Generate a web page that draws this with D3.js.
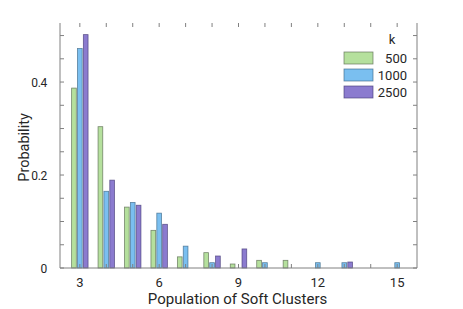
<!DOCTYPE html>
<html><head><meta charset="utf-8">
<script src="https://cdn.jsdelivr.net/npm/d3@7"></script>
<style>body{margin:0;background:#fff}svg{display:block}text{font-family:Roboto,"Liberation Sans",sans-serif;fill:#262626}</style>
</head><body><svg id="c" width="463" height="309"></svg>
<script>
const categories = [3,4,5,6,7,8,9,10,11,12,13,14,15];
const seriesNames = ["500","1000","2500"];
const k500  = [0.387,0.304,0.131,0.081,0.024,0.033,0.0086,0.0165,0.0165,0,0,0,0];
const k1000 = [0.472,0.165,0.141,0.118,0.047,0.0114,0,0.0114,0,0.0114,0.0114,0,0.0114];
const k2500 = [0.502,0.189,0.135,0.094,0,0.0258,0.041,0,0,0,0.0129,0,0];
const xTickLabels = [3,6,9,12,15];
const yTickLabels = [0,0.2,0.4];
const colors = ["#b5e09d","#7abff0","#8b7bcf"];
const strokes = ["#5e6e55","#3f6a8a","#4a3f7a"];

const svg = d3.select("#c");
const L=60,R=417,T=23,B=268;
const x = d3.scaleLinear().domain([2.25,15.75]).range([L,R]);
const y = d3.scaleLinear().domain([0,0.527]).range([B,T]);
const series=[k500,k1000,k2500];
const off=0.222, bw=0.178;
series.forEach((s,i)=>{
  svg.append("g").selectAll("rect").data(categories.map((c,j)=>({c,v:s[j]})).filter(d=>d.v>0))
   .enter().append("rect")
   .attr("x",d=>x(d.c+(i-1)*off-bw/2)).attr("width",x(bw)-x(0))
   .attr("y",d=>y(d.v)).attr("height",d=>B-y(d.v))
   .attr("fill",colors[i]).attr("stroke",strokes[i]).attr("stroke-width",0.8).attr("stroke-opacity",0.8);
});
const ax="#808080";
svg.append("line").attr("x1",L).attr("x2",L).attr("y1",T).attr("y2",B).attr("stroke",ax);
svg.append("line").attr("x1",R).attr("x2",R).attr("y1",T).attr("y2",B).attr("stroke",ax);
svg.append("line").attr("x1",L).attr("x2",R).attr("y1",B).attr("y2",B).attr("stroke",ax);
const xt=d3.range(3,16);
svg.append("g").selectAll("line").data(xt).enter().append("line")
 .attr("x1",d=>x(d)).attr("x2",d=>x(d)).attr("y1",B).attr("y2",B-4).attr("stroke",ax);
svg.append("g").selectAll("line").data(xt).enter().append("line")
 .attr("x1",d=>x(d)).attr("x2",d=>x(d)).attr("y1",T).attr("y2",T+4).attr("stroke",ax);
const yt=d3.range(0,11).map(d=>d*0.05);
svg.append("g").selectAll("line").data(yt).enter().append("line")
 .attr("x1",L).attr("x2",L+4).attr("y1",d=>y(d)).attr("y2",d=>y(d)).attr("stroke",ax);
svg.append("g").selectAll("line").data(yt).enter().append("line")
 .attr("x1",R).attr("x2",R-4).attr("y1",d=>y(d)).attr("y2",d=>y(d)).attr("stroke",ax);
svg.append("g").selectAll("text").data(xTickLabels).enter().append("text")
 .attr("x",d=>x(d)).attr("y",287).attr("text-anchor","middle").attr("font-size",13).text(d=>d);
svg.append("g").selectAll("text").data(yTickLabels).enter().append("text")
 .attr("x",47).attr("y",d=>y(d)+4.5).attr("text-anchor","end").attr("font-size",12).attr("letter-spacing",-0.3).text(d=>d);
svg.append("text").attr("x",(L+R)/2-1).attr("y",304).attr("text-anchor","middle").attr("font-size",15).text("Population of Soft Clusters");
svg.append("text").attr("transform",`translate(29,${(T+B)/2+2}) rotate(-90)`).attr("text-anchor","middle").attr("font-size",14.5).text("Probability");
svg.append("text").attr("x",392).attr("y",44).attr("text-anchor","middle").attr("font-size",13).text("k");
seriesNames.forEach((n,i)=>{
  const cy=58+i*17;
  svg.append("rect").attr("x",344).attr("y",cy-6).attr("width",29).attr("height",12)
    .attr("fill",colors[i]).attr("stroke",strokes[i]).attr("stroke-width",0.8).attr("stroke-opacity",0.8);
  svg.append("text").attr("x",407).attr("y",cy+4.5).attr("text-anchor","end").attr("font-size",13).text(n);
});
</script></body></html>
